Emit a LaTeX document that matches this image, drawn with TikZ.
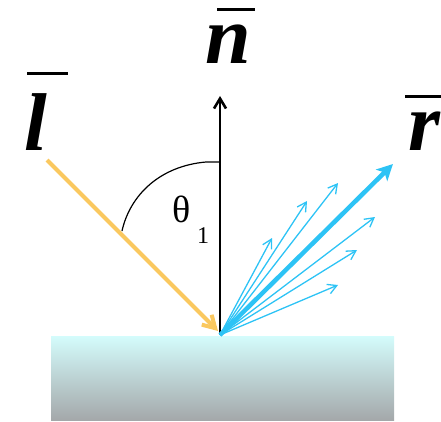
\documentclass[tikz,border=0pt]{standalone}
\usepackage{fontspec}
\setmainfont{Liberation Serif}
\newfontfamily\labfont{Liberation Serif Bold Italic}
\usetikzlibrary{arrows.meta}
\definecolor{refblue}{RGB}{45,195,245}
\definecolor{refyellow}{RGB}{250,200,95}
\definecolor{slabtop}{RGB}{212,252,252}
\definecolor{slabbot}{RGB}{164,168,170}
\tikzset{
  biglabel/.style={inner sep=0pt, font=\fontsize{82}{82}\selectfont\labfont},
  barline/.style={line width=3pt},
  thinray/.style={refblue, line width=1.3pt, -{Straight Barb[length=9pt,width=10pt]}},
  greek/.style={inner sep=0pt, font=\fontsize{38}{38}\selectfont},
  subnum/.style={inner sep=0pt, font=\fontsize{24}{24}\selectfont},
}
\begin{document}
\begin{tikzpicture}[x=1pt,y=-1pt]
\useasboundingbox (0,0) rectangle (441,422);
% slab
\shade[top color=slabtop, bottom color=slabbot] (51,336) rectangle (394,420);
\coordinate (O) at (220,335);
% normal
\coordinate (Ntip) at (220,96);
\draw[line width=2.6pt, -{Straight Barb[length=10pt,width=12pt]}] (O) -- (Ntip);
% incident
\coordinate (Lstart) at (47,160);
\coordinate (Lend) at (218,331);
\draw[refyellow, line width=4pt, -{Straight Barb[length=12pt,width=14pt]}] (Lstart) -- (Lend);
% angle arc
\coordinate (A1) at (220,162);
\coordinate (A2) at (122,231);
\draw[line width=1.2pt] (A1) -- (206,162) .. controls (160,166) and (130,195) .. (A2);
% reflected rays
\coordinate (R0) at (393,164);
\coordinate (R1) at (338,183);
\coordinate (R2) at (307,201);
\coordinate (R3) at (272,238);
\coordinate (R4) at (375,217);
\coordinate (R5) at (357,250);
\coordinate (R6) at (338,285);
\foreach \r in {R1,R2,R3,R4,R5,R6}{\draw[thinray] (O) -- (\r);}
\draw[refblue, line width=4.5pt, -{Stealth[length=16pt,width=16pt,inset=4pt]}] (O) -- (R0);
% labels
\node[biglabel, anchor=base] (nlab) at (228,64) {n};
\draw[barline] (217,10) -- (255,10);
\node[biglabel, anchor=base] (llab) at (36,150) {l};
\draw[barline] (27,74) -- (68,74);
\node[biglabel, anchor=base] (rlab) at (424,150) {r};
\draw[barline] (405,97) -- (441,97);
\node[greek, anchor=base] (theta) at (182,222) {θ};
\node[subnum, anchor=base] (one) at (203,243) {1};
\end{tikzpicture}
\end{document}
